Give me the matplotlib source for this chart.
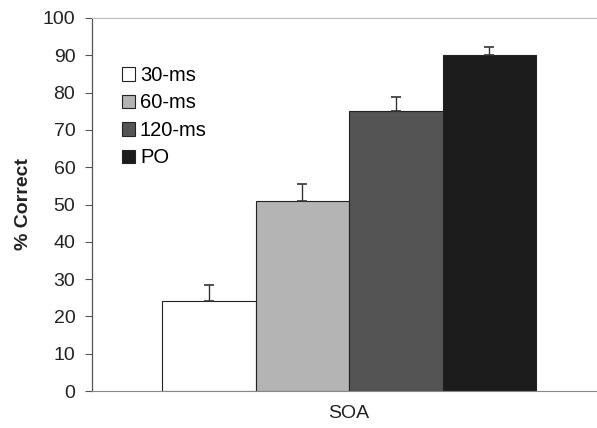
import matplotlib
matplotlib.use("Agg")
import matplotlib.pyplot as plt
from matplotlib.patches import Patch

plt.rcParams["font.family"] = ["Liberation Sans", "DejaVu Sans"]

conditions = ["30-ms", "60-ms", "120-ms", "PO"]
percent_correct = [24.1, 51.0, 75.1, 90.0]
error_upper = [4.3, 4.5, 3.8, 2.1]
bar_colors = ["#ffffff", "#b4b4b4", "#545454", "#1c1c1c"]
y_ticks = list(range(0, 101, 10))

fig = plt.figure(figsize=(5.97, 4.28), dpi=100)
ax = fig.add_axes([92 / 597, 1 - 391 / 428, 1 - 92 / 597, (391 - 18) / 428])

positions = list(range(len(conditions)))
ax.bar(positions, percent_correct, width=1.0, color=bar_colors,
       edgecolor="#222222", linewidth=0.8, zorder=2)
ax.errorbar(positions, percent_correct,
            yerr=[[0] * len(error_upper), error_upper],
            fmt="none", ecolor="#333333", elinewidth=1.0,
            capsize=3.5, capthick=1.2, zorder=3)

ax.set_xlim(-1.25, 4.15)
ax.set_ylim(0, 100)
ax.set_yticks(y_ticks)
ax.set_xticks([])
ax.tick_params(axis="y", direction="out", length=5, width=0.8,
               color="#555555", labelsize=14, labelcolor="#222222", pad=7)

ax.spines["right"].set_visible(False)
ax.spines["top"].set_color("#bbbbbb")
ax.spines["top"].set_linewidth(0.8)
ax.spines["left"].set_color("#555555")
ax.spines["left"].set_linewidth(0.9)
ax.spines["bottom"].set_color("#888888")
ax.spines["bottom"].set_linewidth(0.8)

ax.set_ylabel("% Correct", fontsize=14, fontweight="bold", color="#222222",
              labelpad=8)
fig.text(349 / 597, 1 - 413 / 428, "SOA", fontsize=14, color="#222222",
         ha="center", va="center")

handles = [Patch(facecolor=c, edgecolor="#222222", linewidth=0.8)
           for c in bar_colors]
ax.legend(handles, conditions, loc="upper left",
          bbox_to_anchor=(0.031, 0.909), frameon=False, fontsize=14.5,
          handlelength=0.65, handleheight=0.65, handletextpad=0.25,
          labelspacing=0.42, borderpad=0.2)

fig.savefig("out.png", dpi=100)
